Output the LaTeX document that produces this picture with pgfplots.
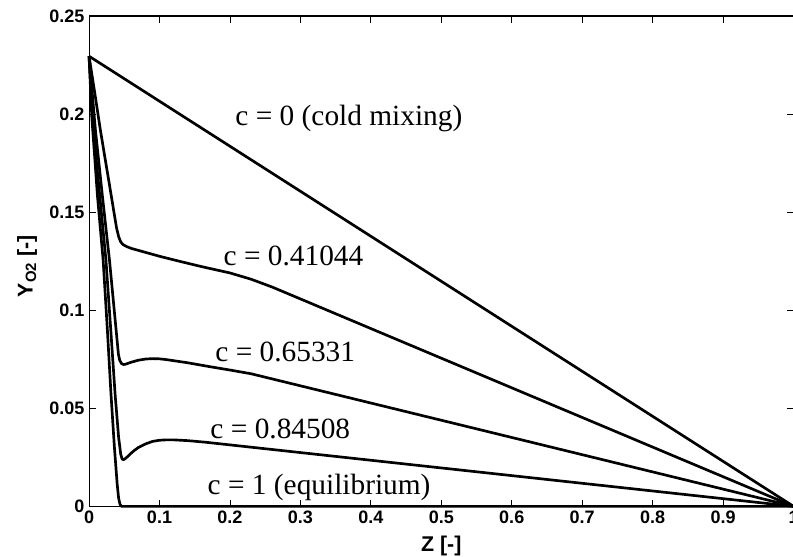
\documentclass[border=0pt]{standalone}
\usepackage{pgfplots}
\pgfplotsset{compat=1.18}
\usepackage{fontspec}
\setmainfont{Liberation Sans}
\newfontfamily\timesf{Liberation Serif}
\begin{document}
\begin{tikzpicture}
\begin{axis}[
  at={(0,0)}, anchor=south west,
  scale only axis, width=528pt, height=367.5pt,
  xmin=0, xmax=1, ymin=0, ymax=0.25,
  xtick={0,0.1,0.2,0.3,0.4,0.5,0.6,0.7,0.8,0.9,1},
  xticklabels={0,0.1,0.2,0.3,0.4,0.5,0.6,0.7,0.8,0.9,1},
  ytick={0,0.05,0.1,0.15,0.2,0.25},
  yticklabels={0,0.05,0.1,0.15,0.2,0.25},
  scaled ticks=false,
  tick align=inside, tick pos=both,
  major tick length=5pt,
  tick style={black, line width=0.6pt},
  axis line style={line width=0.8pt},
  ticklabel style={font=\fontsize{13.5}{15}\selectfont\bfseries},
  xlabel={\textbf{Z [-]}},
  ylabel={\textbf{Y\textsubscript{O2} [-]}},
  label style={font=\fontsize{16}{18}\selectfont},
  xlabel style={at={(axis description cs:0.5,-0.08)}, anchor=center},
  ylabel style={at={(axis description cs:-0.088,0.49)}, anchor=center},
  clip=false,
  every axis plot/.append style={line join=round},
]
% c = 0
\addplot[black, line width=2pt, no markers] coordinates {(0,0.2295) (1,0)};
% c = 0.41044
\addplot[black, line width=2pt, no markers] coordinates {(0,0.2295) (0.008,0.211) (0.016,0.192) (0.028,0.166) (0.039,0.142) (0.042,0.1375) (0.045,0.1348) (0.048,0.1335) (0.053,0.1325) (0.06,0.1315) (0.08,0.1295) (0.1,0.1275) (0.13,0.1248) (0.16,0.1222) (0.2,0.119) (0.23,0.1158) (0.26,0.1118) (1,0)};
% c = 0.65331
\addplot[black, line width=2pt, no markers] coordinates {(0,0.2295) (0.009,0.192) (0.019,0.158) (0.029,0.1255) (0.036,0.099) (0.0417,0.0775) (0.0435,0.0745) (0.046,0.0728) (0.049,0.0723) (0.052,0.0725) (0.06,0.0735) (0.07,0.0745) (0.08,0.0751) (0.09,0.0753) (0.1,0.0752) (0.11,0.0748) (0.14,0.0732) (0.17,0.0713) (0.2,0.0695) (0.23,0.0676) (1,0)};
% c = 0.84508
\addplot[black, line width=2pt, no markers] coordinates {(0,0.2295) (0.006,0.192) (0.015,0.159) (0.024,0.1255) (0.031,0.089) (0.037,0.057) (0.042,0.035) (0.045,0.0265) (0.047,0.024) (0.049,0.0238) (0.052,0.0245) (0.056,0.0258) (0.06,0.0272) (0.065,0.0287) (0.07,0.03) (0.08,0.0318) (0.09,0.0331) (0.1,0.0337) (0.11,0.0339) (0.12,0.0339) (0.14,0.0335) (0.165,0.0327) (1,0)};
% c = 1
\addplot[black, line width=2pt, no markers] coordinates {(0,0.2295) (0.004,0.198) (0.012,0.158) (0.02,0.1255) (0.026,0.09) (0.031,0.058) (0.036,0.03) (0.04,0.011) (0.042,0.004) (0.044,0.001) (0.046,0) (1,0)};
\node[anchor=base west, inner sep=0pt] at (axis cs:0.2074,0.1944) {\timesf\fontsize{22}{24}\selectfont c = 0 (cold mixing)};
\node[anchor=base west, inner sep=0pt] at (axis cs:0.1907,0.123) {\timesf\fontsize{22}{24}\selectfont c = 0.41044};
\node[anchor=base west, inner sep=0pt] at (axis cs:0.179,0.0736) {\timesf\fontsize{22}{24}\selectfont c = 0.65331};
\node[anchor=base west, inner sep=0pt] at (axis cs:0.172,0.0347) {\timesf\fontsize{22}{24}\selectfont c = 0.84508};
\node[anchor=base west, inner sep=0pt] at (axis cs:0.168,0.0058) {\timesf\fontsize{22}{24}\selectfont c = 1 (equilibrium)};
\end{axis}
\pgfresetboundingbox
\path[use as bounding box] (-66.75pt,-37.5pt) rectangle (527.6pt,379.5pt);
\end{tikzpicture}
\end{document}
